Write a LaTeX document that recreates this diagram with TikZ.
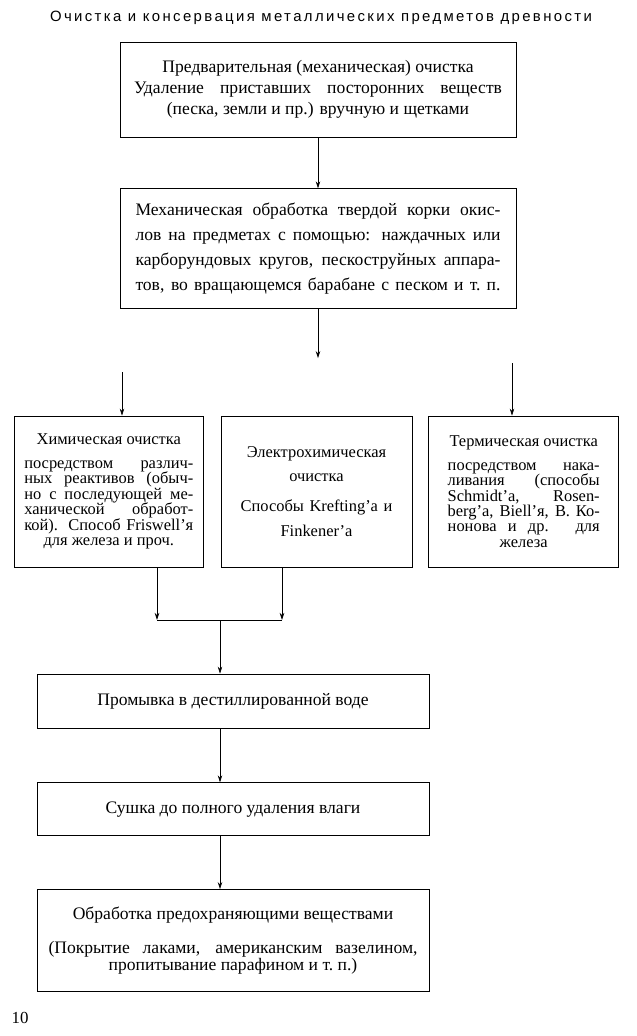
\documentclass[tikz,border=0pt]{standalone}
\usepackage{fontspec}
\setmainfont{Liberation Serif}
\setsansfont{Liberation Sans}
\newfontfamily\headfont[LetterSpace=16]{Liberation Sans}
\usepackage{tikz}
\usetikzlibrary{arrows.meta, positioning}
\tolerance=10000
\hyphenpenalty=10000
\exhyphenpenalty=10000

\begin{document}
\begin{tikzpicture}[
        >={Stealth[length=5pt,width=3.2pt]},
        stage/.style={rectangle, draw, line width=0.5pt, minimum width=9.9cm, font=\fontsize{12.5}{15}\selectfont},
        branch/.style={rectangle, draw, line width=0.5pt, minimum height=3.775cm, font=\fontsize{11.7}{11}\selectfont},
        leading/.style={execute at begin node={\baselineskip=#1\relax}},
        flow/.style={->, line width=0.5pt}
    ]
    \useasboundingbox (0,0) rectangle (15.9,-25.9);

    % Title
    \node (title) at (8.025,-0.45) {\fontsize{10.6}{12}\selectfont\headfont Очистка и консервация металлических предметов древности};

    % Mechanical stages
    \node[stage, text width=9.2cm, minimum height=2.375cm, align=justify, leading=15pt] (prelim) at (7.95,-2.2375)
        {\hspace*{\fill}Предварительная (механическая) очистка\hspace*{\fill}\\
         Удаление приставших посторонних веществ\linebreak
         \hspace*{\fill}(песка, земли и пр.) вручную и щетками\hspace*{\fill}\mbox{}};
    \node[stage, text width=9.125cm, minimum height=3cm, align=justify, below=1.275cm of prelim,
          execute at begin node={\baselineskip=17.8pt\relax\parfillskip=0pt\relax}] (mech)
        {Механическая обработка твердой корки окис-\linebreak
         лов на предметах с помощью: наждачных или\linebreak
         карборундовых кругов, пескоструйных аппара-\linebreak
         тов, во вращающемся барабане с песком и т.~п.};

    % Three kinds of cleaning
    \node[branch, text width=4.4cm, minimum width=4.775cm, align=center, leading=17.5pt] (elec) at (7.9125,-12.2875)
        {Электрохимическая\\ очистка\\[4pt] Способы Krefting’a и\\ Finkener’a};
    \node[branch, text width=4.225cm, minimum width=4.725cm, align=justify, leading=11pt, left=0.425cm of elec] (chem)
        {\hspace*{\fill}Химическая очистка\hspace*{\fill}\\[6pt]
         посредством различ-\linebreak
         ных реактивов (обыч-\linebreak
         но с последующей ме-\linebreak
         ханической обработ-\linebreak
         кой). Способ Friswell’я\linebreak
         \hspace*{\fill}для железа и проч.\hspace*{\fill}\mbox{}};
    \node[branch, text width=3.8cm, minimum width=4.75cm, align=justify, leading=11pt, right=0.4cm of elec] (therm)
        {\hspace*{\fill}Термическая очистка\hspace*{\fill}\\[6pt]
         посредством нака-\linebreak
         ливания (способы\linebreak
         Schmidt’a, Rosen-\linebreak
         berg’a, Biell’я, В.~Ко-\linebreak
         нонова и др. для\linebreak
         \hspace*{\fill}железа\hspace*{\fill}\mbox{}};

    % Final stages
    \node[stage, minimum width=9.8cm, minimum height=1.35cm] (wash) at (5.825,-17.525)
        {Промывка в дестиллированной воде};
    \node[stage, minimum width=9.8cm, minimum height=1.325cm, below=1.35cm of wash] (dry)
        {Сушка до полного удаления влаги};
    \node[stage, text width=9.225cm, minimum width=9.8cm, minimum height=2.55cm, align=justify, leading=11pt, below=1.325cm of dry] (protect)
        {\hspace*{\fill}Обработка предохраняющими веществами\hspace*{\fill}\\[12pt]
         (Покрытие лаками, американским вазелином,\linebreak
         \hspace*{\fill}пропитывание парафином и т.~п.)\hspace*{\fill}\mbox{}};

    % Page number
    \node (folio) at (0.5,-25.45) {\fontsize{12}{12}\selectfont 10};

    % Free ends of connectors
    \coordinate[below=1.225cm of mech] (split);
    \coordinate (chemin) at (3.05,-9.3);
    \coordinate (thermin) at (12.8,-9.075);
    \coordinate (joinl) at (3.925,-15.5);
    \coordinate (joinr) at (7.05,-15.5);
    \coordinate (joinm) at (5.5,-15.5);

    % Connectors
    \draw[flow] (prelim) -- (mech);
    \draw[flow] (mech) -- (split);
    \draw[flow] (chemin) -- (chemin |- chem.north);
    \draw[flow] (thermin) -- (thermin |- therm.north);
    \draw[flow] (chem.south -| joinl) -- (joinl);
    \draw[flow] (elec.south -| joinr) -- (joinr);
    \draw[line width=0.5pt] (joinl) -- (joinr);
    \draw[flow] (joinm) -- (joinm |- wash.north);
    \draw[flow] (wash.south -| joinm) -- (dry.north -| joinm);
    \draw[flow] (dry.south -| joinm) -- (protect.north -| joinm);

\end{tikzpicture}
\end{document}
